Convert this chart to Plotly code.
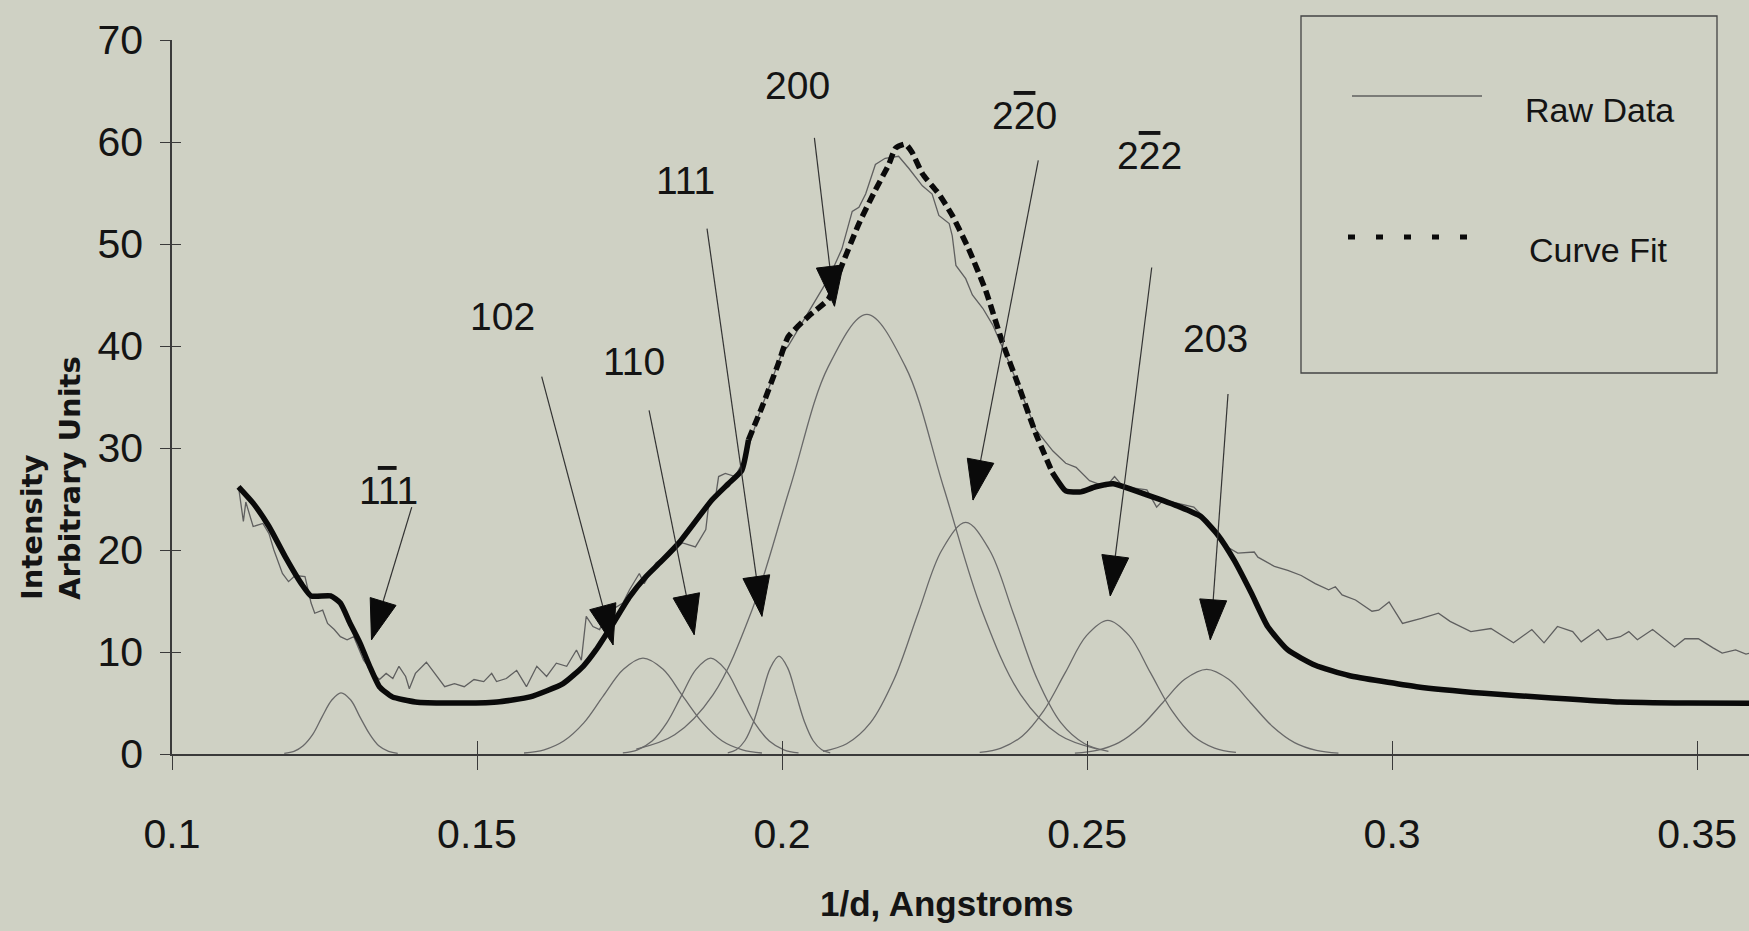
import math
import plotly.graph_objects as go

# ---------------- data ----------------
raw_x = [0.1109, 0.1117, 0.1121, 0.1133, 0.1149, 0.1159, 0.1167, 0.1181, 0.1191, 0.1202,
         0.1218, 0.1223, 0.1228, 0.1234, 0.1247, 0.1255, 0.1266, 0.1276, 0.1287, 0.1298,
         0.1314, 0.1330, 0.1340, 0.1351, 0.1362, 0.1372, 0.1383, 0.1389, 0.1399, 0.1417,
         0.1431, 0.1447, 0.1463, 0.1479, 0.1495, 0.1511, 0.1524, 0.1532, 0.1548, 0.1565,
         0.1581, 0.1598, 0.1614, 0.1630, 0.1647, 0.1663, 0.1671, 0.1679, 0.1690, 0.1701,
         0.1712, 0.1739, 0.1750, 0.1766, 0.1774, 0.1793, 0.1820, 0.1837, 0.1858, 0.1875,
         0.1880, 0.1891, 0.1896, 0.1907, 0.1923, 0.1940, 0.1961, 0.1983, 0.1999, 0.2010,
         0.2027, 0.2043, 0.2060, 0.2076, 0.2098, 0.2115, 0.2126, 0.2137, 0.2153, 0.2169,
         0.2191, 0.2208, 0.2230, 0.2246, 0.2257, 0.2274, 0.2279, 0.2285, 0.2301, 0.2312,
         0.2329, 0.2345, 0.2372, 0.2394, 0.2416, 0.2444, 0.2465, 0.2482, 0.2504, 0.2531,
         0.2545, 0.2559, 0.2598, 0.2614, 0.2625, 0.2675, 0.2697, 0.2730, 0.2747, 0.2774,
         0.2780, 0.2807, 0.2829, 0.2851, 0.2874, 0.2896, 0.2907, 0.2918, 0.2940, 0.2967,
         0.2978, 0.2995, 0.3017, 0.3048, 0.3076, 0.3095, 0.3129, 0.3162, 0.3199, 0.3229,
         0.3249, 0.3271, 0.3296, 0.3310, 0.3338, 0.3352, 0.3374, 0.3388, 0.3402, 0.3427,
         0.3463, 0.3480, 0.3502, 0.3526, 0.3541, 0.3563, 0.3580, 0.3595]
raw_y = [26.2, 22.8, 24.7, 22.3, 22.6, 21.6, 20.0, 17.7, 16.9, 17.5,
         17.4, 16.1, 14.8, 13.8, 14.1, 12.8, 12.2, 11.5, 11.2, 11.5,
         9.2, 7.9, 7.3, 7.9, 7.4, 8.6, 7.6, 6.4, 7.9, 9.0,
         7.9, 6.6, 6.9, 6.6, 7.3, 7.1, 7.9, 7.1, 7.4, 8.2,
         6.6, 8.6, 7.6, 8.9, 8.6, 10.2, 9.2, 13.5, 12.5, 12.2,
         13.8, 14.8, 16.1, 17.7, 16.7, 18.7, 20.0, 20.7, 20.3, 22.0,
         24.6, 25.2, 27.2, 27.5, 27.2, 29.1, 33.1, 36.7, 39.2, 40.0,
         41.7, 43.3, 45.0, 46.6, 49.5, 53.2, 53.6, 54.9, 57.8, 58.4,
         58.6, 57.4, 55.7, 54.9, 52.8, 52.0, 50.8, 47.9, 46.6, 45.0,
         43.7, 42.1, 38.4, 35.1, 31.8, 29.7, 28.5, 28.1, 26.8, 26.2,
         27.2, 26.2, 25.9, 24.2, 24.9, 24.2, 22.9, 20.3, 19.7, 19.8,
         19.3, 18.4, 18.0, 17.5, 16.7, 16.1, 16.4, 15.6, 15.1, 14.0,
         14.1, 14.9, 12.8, 13.3, 13.8, 13.0, 12.0, 12.3, 10.9, 12.2,
         10.9, 12.5, 12.0, 11.0, 12.2, 11.2, 11.5, 12.0, 11.2, 12.2,
         10.5, 11.3, 11.3, 10.4, 9.9, 10.2, 9.8, 10.0]

fit_x = [0.1109, 0.1133, 0.1159, 0.1186, 0.1212, 0.1228, 0.1260, 0.1276, 0.1292, 0.1308,
         0.1324, 0.1340, 0.1361, 0.1399, 0.1452, 0.1533, 0.1587, 0.1641, 0.1674, 0.1695,
         0.1723, 0.1750, 0.1777, 0.1804, 0.1831, 0.1858, 0.1885, 0.1912, 0.1934, 0.1945,
         0.1967, 0.1994, 0.2010, 0.2043, 0.2076, 0.2098, 0.2126, 0.2153, 0.2175, 0.2186,
         0.2202, 0.2213, 0.2230, 0.2257, 0.2279, 0.2306, 0.2334, 0.2361, 0.2389, 0.2416,
         0.2443, 0.2465, 0.2490, 0.2514, 0.2543, 0.2598, 0.2653, 0.2686, 0.2714, 0.2741,
         0.2769, 0.2796, 0.2829, 0.2874, 0.2929, 0.3040, 0.3151, 0.3262, 0.3374, 0.3485,
         0.3594]
fit_y = [26.2, 24.6, 22.3, 19.3, 16.7, 15.5, 15.5, 14.8, 12.8, 10.9,
         8.6, 6.6, 5.6, 5.1, 5.0, 5.1, 5.6, 6.9, 8.6, 10.2,
         12.8, 15.4, 17.4, 19.0, 20.7, 22.8, 24.9, 26.5, 27.8, 30.8,
         34.0, 38.3, 40.9, 42.9, 44.6, 47.9, 52.0, 55.3, 57.8, 59.4,
         59.8, 59.0, 56.9, 54.9, 52.8, 49.5, 45.4, 40.4, 35.9, 31.4,
         27.6, 25.8, 25.7, 26.2, 26.5, 25.4, 24.2, 23.3, 21.5, 19.0,
         15.8, 12.5, 10.2, 8.7, 7.7, 6.6, 5.95, 5.5, 5.1, 5.0,
         4.97]

# fitted component peaks (Miller index, x samples, y samples)
peak_names = ["1-11", "102", "110", "111", "200", "2-20", "2-22", "203"]
peak_x = [
    [0.1184, 0.1200, 0.1215, 0.1231, 0.1246, 0.1262, 0.1277, 0.1293, 0.1308, 0.1324, 0.1339, 0.1355, 0.1370],
    [0.1577, 0.1610, 0.1642, 0.1675, 0.1707, 0.1740, 0.1772, 0.1805, 0.1837, 0.1870, 0.1902, 0.1935, 0.1967],
    [0.1739, 0.1763, 0.1787, 0.1811, 0.1835, 0.1859, 0.1883, 0.1907, 0.1931, 0.1955, 0.1979, 0.2003, 0.2027],
    [0.1911, 0.1925, 0.1939, 0.1953, 0.1967, 0.1981, 0.1995, 0.2009, 0.2023, 0.2037, 0.2051, 0.2065, 0.2079],
    [0.1761, 0.1824, 0.1887, 0.1950, 0.2013, 0.2076, 0.2139, 0.2202, 0.2265, 0.2328, 0.2391, 0.2454, 0.2517],
    [0.2067, 0.2106, 0.2145, 0.2184, 0.2223, 0.2262, 0.2301, 0.2340, 0.2379, 0.2418, 0.2457, 0.2496, 0.2535],
    [0.2324, 0.2359, 0.2394, 0.2429, 0.2464, 0.2499, 0.2534, 0.2569, 0.2604, 0.2639, 0.2674, 0.2709, 0.2744],
    [0.2480, 0.2516, 0.2552, 0.2588, 0.2624, 0.2660, 0.2696, 0.2732, 0.2768, 0.2804, 0.2840, 0.2876, 0.2912],
]
peak_y = [
    [0.07, 0.26, 0.81, 1.95, 3.64, 5.29, 6.0, 5.29, 3.64, 1.95, 0.81, 0.26, 0.07],
    [0.10, 0.41, 1.27, 3.05, 5.70, 8.30, 9.4, 8.30, 5.70, 3.05, 1.27, 0.41, 0.10],
    [0.10, 0.41, 1.27, 3.05, 5.70, 8.30, 9.4, 8.30, 5.70, 3.05, 1.27, 0.41, 0.10],
    [0.11, 0.42, 1.30, 3.12, 5.82, 8.47, 9.6, 8.47, 5.82, 3.12, 1.30, 0.42, 0.11],
    [0.48, 1.89, 5.83, 14.0, 26.1, 38.0, 43.1, 38.0, 26.1, 14.0, 5.83, 1.89, 0.48],
    [0.25, 1.00, 3.07, 7.37, 13.8, 20.0, 22.7, 20.0, 13.8, 7.37, 3.07, 1.00, 0.25],
    [0.15, 0.58, 1.77, 4.25, 7.95, 11.6, 13.1, 11.6, 7.95, 4.25, 1.77, 0.58, 0.15],
    [0.09, 0.36, 1.12, 2.70, 5.03, 7.32, 8.3, 7.32, 5.03, 2.70, 1.12, 0.36, 0.09],
]

# peak labels: text, label position, arrow tail, arrow tip (data coords)
OV = '<span style="text-decoration:overline">{}</span>'
label_text = ["1" + OV.format("1") + "1", "102", "110", "111", "200",
              "2" + OV.format("2") + "0", "2" + OV.format("2") + "2", "203"]
label_x = [0.1355, 0.1541, 0.1758, 0.1841, 0.2025, 0.2398, 0.2602, 0.2711]
label_y = [25.8, 42.9, 38.5, 56.2, 65.5, 62.6, 58.7, 40.7]
tail_x = [0.1393, 0.1606, 0.1782, 0.1877, 0.2053, 0.2420, 0.2606, 0.2731]
tail_y = [24.2, 37.0, 33.7, 51.5, 60.4, 58.2, 47.7, 35.3]
tip_x = [0.1327, 0.1723, 0.1856, 0.1967, 0.2086, 0.2313, 0.2538, 0.2702]
tip_y = [11.2, 10.7, 11.7, 13.5, 43.9, 24.9, 15.5, 11.2]

x_tickvals = [0.1, 0.15, 0.2, 0.25, 0.3, 0.35]
x_ticktext = ["0.1", "0.15", "0.2", "0.25", "0.3", "0.35"]
y_tickvals = [0, 10, 20, 30, 40, 50, 60, 70]

# ---------------- styling / layout ----------------
W, H = 1749, 931
ML, MR, MT, MB = 172, 0, 40, 177
XR = [0.1, 0.3585]
YR = [0, 70]
BG = "rgb(207,209,196)"
INK = "#141414"
GREY = "rgb(105,105,105)"
FONT = "Liberation Sans, Arial, sans-serif"
DASH_FROM, DASH_TO = 0.1945, 0.2443

plot_w = W - ML - MR
plot_h = H - MT - MB
px_per_x = plot_w / (XR[1] - XR[0])
px_per_y = plot_h / (YR[1] - YR[0])

fig = go.Figure()

for nm, xs, ys in zip(peak_names, peak_x, peak_y):
    fig.add_trace(go.Scatter(x=xs, y=ys, mode="lines", name=nm, showlegend=False,
                             line=dict(color=GREY, width=1.3, shape="spline", smoothing=1.0)))

fig.add_trace(go.Scatter(x=raw_x, y=raw_y, mode="lines", name="Raw Data", showlegend=False,
                         line=dict(color="rgb(95,95,95)", width=1.3)))

idx_a = [i for i, v in enumerate(fit_x) if v <= DASH_FROM]
idx_b = [i for i, v in enumerate(fit_x) if DASH_FROM <= v <= DASH_TO]
idx_c = [i for i, v in enumerate(fit_x) if v >= DASH_TO]
for idx, dash in ((idx_a, "solid"), (idx_b, "10px,5px"), (idx_c, "solid")):
    fig.add_trace(go.Scatter(x=[fit_x[i] for i in idx], y=[fit_y[i] for i in idx],
                             mode="lines", name="Curve Fit", showlegend=False,
                             line=dict(color="#0a0a0a", width=5.5, dash=dash,
                                       shape="spline", smoothing=0.5)))

# helper trace for the inner halves of the cross ticks
fig.add_trace(go.Scatter(x=[], y=[], xaxis="x2", yaxis="y2", showlegend=False, hoverinfo="skip"))

shapes = []
annotations = []

# arrows: thin line + elongated triangular head
HEAD_L, HEAD_W = 40, 27
for tx, ty, hx, hy in zip(tail_x, tail_y, tip_x, tip_y):
    dxp = (hx - tx) * px_per_x
    dyp = (hy - ty) * px_per_y
    n = math.hypot(dxp, dyp)
    ux, uy = dxp / n, dyp / n
    bx, by = -HEAD_L * ux, -HEAD_L * uy
    nx, ny = -uy, ux
    shapes.append(dict(type="line", xref="x", yref="y", x0=tx, y0=ty, x1=hx, y1=hy,
                       line=dict(color="#333333", width=1.2), layer="above"))
    path = (f"M0,0 L{bx + HEAD_W / 2 * nx:.2f},{by + HEAD_W / 2 * ny:.2f} "
            f"L{bx - HEAD_W / 2 * nx:.2f},{by - HEAD_W / 2 * ny:.2f} Z")
    shapes.append(dict(type="path", xref="x", yref="y", xsizemode="pixel", ysizemode="pixel",
                       xanchor=hx, yanchor=hy, path=path, fillcolor="#0a0a0a",
                       line=dict(color="#0a0a0a", width=1), layer="above"))

for t, lx, ly in zip(label_text, label_x, label_y):
    annotations.append(dict(x=lx, y=ly, xref="x", yref="y", text=t, showarrow=False,
                            font=dict(family=FONT, size=39, color=INK),
                            xanchor="center", yanchor="middle"))


def px2paper_x(p):
    return (p - ML) / plot_w


def px2paper_y(p):
    return (H - MB - p) / plot_h


# legend box
shapes.append(dict(type="rect", xref="paper", yref="paper",
                   x0=px2paper_x(1301), x1=px2paper_x(1717),
                   y0=px2paper_y(373), y1=px2paper_y(16),
                   line=dict(color="#444444", width=1.3), fillcolor="rgba(0,0,0,0)"))
shapes.append(dict(type="line", xref="paper", yref="paper",
                   x0=px2paper_x(1352), x1=px2paper_x(1482),
                   y0=px2paper_y(96), y1=px2paper_y(96),
                   line=dict(color="rgb(95,95,95)", width=1.3)))
shapes.append(dict(type="line", xref="paper", yref="paper",
                   x0=px2paper_x(1348), x1=px2paper_x(1470),
                   y0=px2paper_y(237), y1=px2paper_y(237),
                   line=dict(color="#0a0a0a", width=5, dash="7px,21px")))
annotations.append(dict(x=px2paper_x(1523), y=px2paper_y(110), xref="paper", yref="paper",
                        text="Raw Data", showarrow=False, xanchor="left", yanchor="middle",
                        font=dict(family=FONT, size=34, color=INK)))
annotations.append(dict(x=px2paper_x(1527), y=px2paper_y(250), xref="paper", yref="paper",
                        text="Curve Fit", showarrow=False, xanchor="left", yanchor="middle",
                        font=dict(family=FONT, size=34, color=INK)))

# axis titles
annotations.append(dict(x=px2paper_x(946), y=px2paper_y(904), xref="paper", yref="paper",
                        text="<b>1/d, Angstroms</b>", showarrow=False,
                        xanchor="center", yanchor="middle",
                        font=dict(family=FONT, size=35, color=INK)))
annotations.append(dict(x=px2paper_x(51), y=px2paper_y(478), xref="paper", yref="paper",
                        text="<b>Intensity<br>Arbitrary Units</b>", showarrow=False,
                        textangle=-90, align="left", xanchor="center", yanchor="middle",
                        font=dict(family="DejaVu Sans", size=29, color=INK)))

axis_common = dict(showgrid=False, zeroline=False, tickcolor="#3a3a3a", tickwidth=1.3)

fig.update_layout(
    width=W, height=H,
    margin=dict(l=ML, r=MR, t=MT, b=MB, pad=0),
    paper_bgcolor=BG, plot_bgcolor=BG,
    showlegend=False,
    xaxis=dict(range=XR, tickvals=x_tickvals, ticktext=x_ticktext, ticks="outside",
               ticklen=14, showline=True, linecolor="#3a3a3a", linewidth=1.5,
               tickfont=dict(family=FONT, size=41, color=INK), ticklabelstandoff=29,
               **axis_common),
    yaxis=dict(range=YR, tickvals=y_tickvals, ticks="outside", ticklen=10,
               showline=True, linecolor="#3a3a3a", linewidth=1.5,
               tickfont=dict(family=FONT, size=41, color=INK), ticklabelstandoff=9,
               **axis_common),
    xaxis2=dict(overlaying="x", matches="x", anchor="y2", side="bottom", range=XR,
                tickvals=x_tickvals, ticks="inside", ticklen=13, showticklabels=False,
                showline=False, **axis_common),
    yaxis2=dict(overlaying="y", matches="y", anchor="x2", side="left", range=YR,
                tickvals=y_tickvals, ticks="inside", ticklen=9, showticklabels=False,
                showline=False, **axis_common),
    shapes=shapes,
    annotations=annotations,
)

fig.write_html("out.html", config={"displayModeBar": False},
               post_script="document.body.style.margin='0';document.body.style.overflow='hidden';")
